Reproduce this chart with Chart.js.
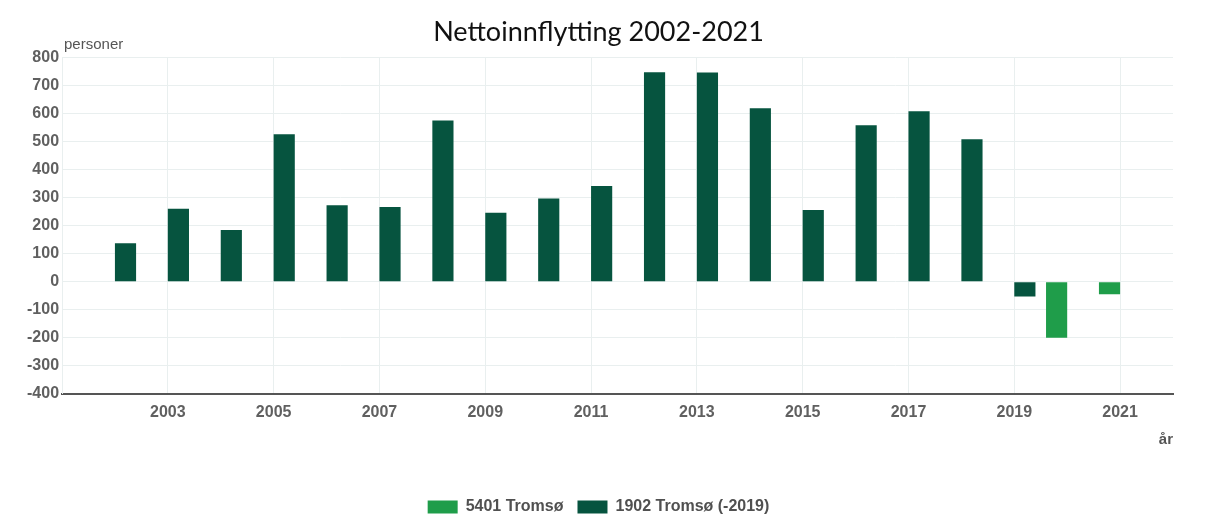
<!DOCTYPE html>
<html>
<head>
<meta charset="utf-8">
<script src="https://cdn.jsdelivr.net/npm/chart.js@4"></script>
<style>
  html, body { margin: 0; padding: 0; background: #fff; }
  #wrap { width: 1220px; height: 517px; position: relative; }
</style>
</head>
<body>
<div id="wrap"><canvas id="chart"></canvas></div>
<script>
/* Nettoinnflytting per år, to kommunenummer for Tromsø. */
var years = [2002, 2003, 2004, 2005, 2006, 2007, 2008, 2009, 2010, 2011,
             2012, 2013, 2014, 2015, 2016, 2017, 2018, 2019, 2020, 2021];
var tromso5401 = [null, null, null, null, null, null, null, null, null, null,
                  null, null, null, null, null, null, null, null, -200, -45];
var tromso1902 = [137, 260, 184, 526, 273, 266, 575, 246, 297, 341,
                  747, 746, 619, 256, 558, 608, 508, -53, null, null];
var yTicks = [-400, -300, -200, -100, 0, 100, 200, 300, 400, 500, 600, 700, 800];

var LIGHT = '#1f9d4a', DARK = '#06543f';
var GRID = '#e9efef';
var SANS = 'Liberation Sans, Arial, sans-serif';
var TICK_FONT = { family: SANS, size: 16, weight: 'bold' };

function points(vals) {
  return years.map(function (y, i) { return { x: y, y: vals[i] }; });
}

// "personer" over the value axis
var unitLabel = {
  id: 'unitLabel',
  afterDraw: function (chart) {
    var ctx = chart.ctx, a = chart.chartArea;
    ctx.save();
    ctx.fillStyle = '#555';
    ctx.font = '15px ' + SANS;
    ctx.textAlign = 'left';
    ctx.textBaseline = 'alphabetic';
    ctx.fillText('personer', a.left + 2, a.top - 8);
    ctx.restore();
  }
};

new Chart(document.getElementById('chart'), {
  type: 'bar',
  data: {
    datasets: [
      { label: '5401 Tromsø', data: points(tromso5401), backgroundColor: LIGHT },
      { label: '1902 Tromsø (-2019)', data: points(tromso1902), backgroundColor: DARK }
    ]
  },
  options: {
    responsive: true, maintainAspectRatio: false,
    animation: false,
    categoryPercentage: 0.8, barPercentage: 1.0,
    // negative bottom lets the legend keep wide item gaps but sit low
    layout: { padding: { left: 24, right: 47, top: 0, bottom: -8 } },
    scales: {
      x: {
        type: 'linear', min: 2001, max: 2022, offset: false,
        grid: {
          offset: false,
          drawTicks: false,
          color: function (c) {
            var v = c.tick && c.tick.value;
            return (v > 2001 && v < 2022 && v % 2 === 1) ? GRID : 'rgba(0,0,0,0)';
          }
        },
        border: { color: '#555', width: 2 },
        ticks: {
          stepSize: 1, autoSkip: false, maxRotation: 0, padding: 9,
          color: '#606060', font: TICK_FONT,
          callback: function (v) { return (v > 2001 && v % 2 === 1) ? String(v) : ''; }
        },
        title: {
          display: true, text: 'år', align: 'end', color: '#555',
          font: { family: SANS, size: 15, weight: 'bold' },
          padding: { top: 0, bottom: 36 }
        }
      },
      y: {
        min: -400, max: 800,
        afterBuildTicks: function (s) { s.ticks = yTicks.map(function (v) { return { value: v }; }); },
        grid: { drawTicks: false, color: GRID },
        border: { color: GRID },
        ticks: { padding: 3, color: '#606060', font: TICK_FONT }
      }
    },
    plugins: {
      title: {
        display: true, text: 'Nettoinnflytting 2002-2021', color: '#111',
        font: { family: 'Lato, Open Sans, sans-serif', size: 27, weight: 'normal' },
        padding: { top: 16, bottom: 9 }
      },
      legend: {
        position: 'bottom',
        labels: {
          boxWidth: 30, boxHeight: 13, padding: 14, color: '#505050',
          font: { family: SANS, size: 16, weight: 'bold' }
        }
      },
      tooltip: { enabled: false }
    }
  },
  plugins: [unitLabel]
});
</script>
</body>
</html>
